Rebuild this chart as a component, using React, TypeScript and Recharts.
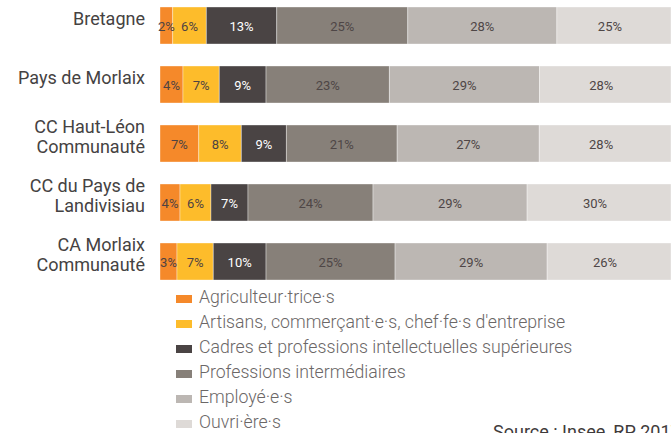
import { Bar, BarChart, LabelList, XAxis, YAxis } from "recharts";

const categories = [
  "Bretagne",
  "Pays de Morlaix",
  "CC Haut-Léon\nCommunauté",
  "CC du Pays de\nLandivisiau",
  "CA Morlaix\nCommunauté",
];

// shares in % (labels are rounded)
const agriculteurs = [2.41, 4.37, 7.36, 3.8, 3.23];
const artisans = [6.4, 6.9, 8.1, 5.89, 6.9];
const cadres = [13.37, 8.88, 8.56, 7.03, 10.02];
const intermediaires = [24.9, 23.44, 21.05, 23.76, 24.52];
const employes = [28.33, 28.52, 27.0, 29.28, 28.9];
const ouvriers = [24.59, 27.89, 27.93, 30.24, 26.43];

const series = [
  { key: "agri", name: "Agriculteur·trice·s", values: agriculteurs, color: "#f5892a", text: "#4e4343" },
  { key: "arti", name: "Artisans, commerçant·e·s, chef·fe·s d'entreprise", values: artisans, color: "#fdbc2b", text: "#4e4343" },
  { key: "cadr", name: "Cadres et professions intellectuelles supérieures", values: cadres, color: "#4a4444", text: "#ffffff" },
  { key: "inte", name: "Professions intermédiaires", values: intermediaires, color: "#878079", text: "#4e4646" },
  { key: "empl", name: "Employé·e·s", values: employes, color: "#bcb7b3", text: "#4e4646" },
  { key: "ouvr", name: "Ouvri·ère·s", values: ouvriers, color: "#dedad7", text: "#4e4646" },
];

const rows = categories.map((name, i) => {
  const row: Record<string, string | number> = { name };
  series.forEach((s) => (row[s.key] = s.values[i]));
  return row;
});

const font = "Roboto, 'Noto Sans', sans-serif";
const visibleRight = 663;

function CategoryTick(props: any) {
  const { y, payload } = props;
  const lines = String(payload.value).split("\n");
  const offsets = lines.length === 1 ? [-0.5] : [-11, 9];
  return (
    <g>
      {lines.map((line, i) => (
        <text
          key={i}
          x={145}
          y={y + offsets[i]}
          textAnchor="end"
          fontFamily={font}
          fontSize={18}
          fill="#454242"
        >
          {line}
        </text>
      ))}
    </g>
  );
}

function makeLabel(color: string, clamp: boolean) {
  return (props: any) => {
    const { x, y, width, height, value } = props;
    const end = clamp ? Math.min(x + width, visibleRight) : x + width;
    return (
      <text
        x={(x + end) / 2}
        y={y + height / 2 + 5.5}
        textAnchor="middle"
        fontFamily={font}
        fontSize={13}
        fill={color}
      >
        {`${Math.round(value)}%`}
      </text>
    );
  };
}

export default function App() {
  return (
    <div
      style={{
        position: "absolute",
        left: 0,
        top: 0,
        width: 671,
        height: 433,
        overflow: "hidden",
        background: "#fff",
        fontFamily: font,
      }}
    >
      <div style={{ position: "absolute", left: 0, top: -4 }}>
        <BarChart
          width={671}
          height={295}
          data={rows}
          layout="vertical"
          margin={{ top: 0, right: 0, bottom: 0, left: 0 }}
        >
          <XAxis type="number" domain={[0, 97.1]} allowDataOverflow hide />
          <YAxis
            type="category"
            dataKey="name"
            width={160}
            axisLine={false}
            tickLine={false}
            tick={CategoryTick}
            interval={0}
          />
          {series.map((s, i) => (
            <Bar
              key={s.key}
              dataKey={s.key}
              name={s.name}
              stackId="a"
              fill={s.color}
              stroke="rgba(255,255,255,0.45)"
              strokeWidth={0.8}
              barSize={37}
              isAnimationActive={false}
            >
              <LabelList dataKey={s.key} content={makeLabel(s.text, i === series.length - 1)} />
            </Bar>
          ))}
        </BarChart>
      </div>
      <div style={{ position: "absolute", left: 176, top: 285 }}>
        {series.map((s) => (
          <div
            key={s.key}
            style={{ display: "flex", alignItems: "center", height: 25, lineHeight: "25px" }}
          >
            <span
              style={{ display: "inline-block", width: 16, height: 8, background: s.color, marginRight: 7, marginTop: 3 }}
            />
            <span style={{ fontSize: 17.7, fontWeight: 300, color: "#6b6767", whiteSpace: "nowrap" }}>{s.name}</span>
          </div>
        ))}
      </div>
      <div
        style={{
          position: "absolute",
          left: 493,
          top: 421,
          fontSize: 18,
          color: "#3f3b3b",
          whiteSpace: "nowrap",
          lineHeight: "normal",
        }}
      >
        Source : Insee, RP 2017
      </div>
    </div>
  );
}
